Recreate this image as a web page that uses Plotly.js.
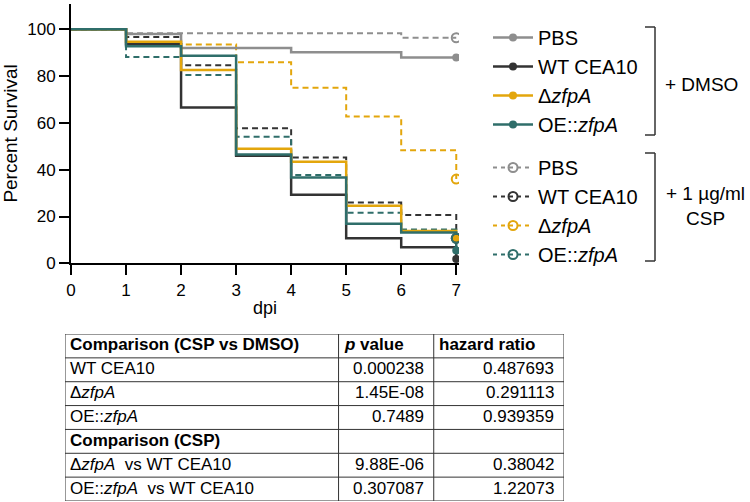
<!DOCTYPE html>
<html>
<head>
<meta charset="utf-8">
<script src="https://cdn.plot.ly/plotly-3.0.1.min.js"></script>
<style>html,body{margin:0;padding:0;background:#fff}#chart{width:750px;height:502px}</style>
</head>
<body>
<div id="chart"></div>
<script>
// ---- data ----
const days = [0, 1, 2, 3, 4, 5, 6, 7];
const pbsDMSO = [100, 98.0, 92.0, 92.0, 90.2, 90.2, 88.0, 88.0];
const wtDMSO  = [100, 93.6, 66.6, 46.0, 29.3, 10.7, 6.9, 1.8];
const dzDMSO  = [100, 94.7, 82.6, 49.0, 43.4, 24.6, 13.8, 10.7];
const oeDMSO  = [100, 92.8, 88.7, 46.5, 36.7, 16.9, 13.2, 5.5];
const pbsCSP  = [100, 98.3, 98.3, 98.3, 98.3, 98.3, 96.4, 96.4];
const wtCSP   = [100, 96.7, 84.7, 57.7, 45.2, 26.0, 20.6, 10.7];
const dzCSP   = [100, 94.5, 93.5, 85.9, 75.0, 62.7, 48.3, 36.0];
const oeCSP   = [100, 88.2, 80.5, 54.1, 37.7, 21.6, 14.5, 10.7];

const seriesNames = ['PBS', 'WT CEA10', 'Δ<i>zfpA</i>', 'OE::<i>zfpA</i>'];
const colors = ['#8e8e8e', '#333333', '#e3a60c', '#2f6e6a'];

const tableHeader = ['<b>Comparison (CSP vs DMSO)</b>', '<b><i>p</i> value</b>', '<b>hazard ratio</b>'];
const tableComparison = ['WT CEA10', 'Δ<i>zfpA</i>', 'OE::<i>zfpA</i>', '<b>Comparison (CSP)</b>', 'Δ<i>zfpA</i>\u00a0\u00a0vs WT CEA10', 'OE::<i>zfpA</i>\u00a0\u00a0vs WT CEA10'];
const tablePValue = ['0.000238', '1.45E-08', '0.7489', '', '9.88E-06', '0.307087'];
const tableHazard = ['0.487693', '0.291113', '0.939359', '', '0.38042', '1.22073'];
const tableColWidths = [273, 95, 130];

const W = 750, H = 502;
const FONT = 'Liberation Sans, Arial, sans-serif';
const px = x => x / W;
const py = y => 1 - y / H;

const dmso = [pbsDMSO, wtDMSO, dzDMSO, oeDMSO];
const csp = [pbsCSP, wtCSP, dzCSP, oeCSP];

const traces = [];
csp.forEach((s, i) => traces.push({
  x: days, y: s, type: 'scatter', mode: 'lines', line: {shape: 'hv', color: colors[i], width: 2, dash: '6px,4px'},
  showlegend: false, hoverinfo: 'skip'
}));
dmso.forEach((s, i) => traces.push({
  x: days, y: s, type: 'scatter', mode: 'lines', line: {shape: 'hv', color: colors[i], width: 2.5},
  showlegend: false, hoverinfo: 'skip'
}));
dmso.forEach((s, i) => traces.push({
  x: [days[days.length - 1]], y: [s[s.length - 1]], type: 'scatter', mode: 'lines+markers',
  name: seriesNames[i], legend: 'legend',
  line: {color: colors[i], width: 2.5}, marker: {symbol: 'circle', size: 8, color: colors[i]}
}));
csp.forEach((s, i) => traces.push({
  x: [days[days.length - 1]], y: [s[s.length - 1]], type: 'scatter', mode: 'lines+markers',
  name: seriesNames[i], legend: 'legend2',
  line: {color: colors[i], width: 2, dash: '4px,4px'},
  marker: {symbol: 'circle-open', size: 9, color: colors[i], line: {width: 2, color: colors[i]}}
}));

const axisBase = {
  showline: true, linecolor: '#000', linewidth: 2, ticks: 'outside', ticklen: 10, tickwidth: 2, tickcolor: '#000',
  showgrid: false, zeroline: false, tickfont: {family: FONT, size: 17, color: '#000'}
};

const bracket = (x, y0, y1) => [
  {type: 'line', xref: 'paper', yref: 'paper', x0: px(x), x1: px(x), y0: py(y0), y1: py(y1), line: {color: '#333', width: 1.5}},
  {type: 'line', xref: 'paper', yref: 'paper', x0: px(x - 10), x1: px(x), y0: py(y0), y1: py(y0), line: {color: '#333', width: 1.5}},
  {type: 'line', xref: 'paper', yref: 'paper', x0: px(x - 10), x1: px(x), y0: py(y1), y1: py(y1), line: {color: '#333', width: 1.5}}
];

// ---- table built on its own hidden axes (x2: column units, y2: row index) ----
const tableRows = [tableHeader].concat(tableComparison.map((c, r) => [c, tablePValue[r], tableHazard[r]]));
const colEdges = [0];
tableColWidths.forEach(w => colEdges.push(colEdges[colEdges.length - 1] + w));
const tableShapes = [];
for (let r = 0; r <= tableRows.length; r++) {
  tableShapes.push({type: 'line', xref: 'x2', yref: 'y2', x0: 0, x1: colEdges[colEdges.length - 1], y0: r, y1: r, line: {color: '#333', width: 1}});
}
colEdges.forEach(c => tableShapes.push({type: 'line', xref: 'x2', yref: 'y2', x0: c, x1: c, y0: 0, y1: tableRows.length, line: {color: '#333', width: 1}}));
const tableAnn = [];
tableRows.forEach((row, r) => row.forEach((txt, c) => {
  if (!txt) return;
  const right = r > 0 && c > 0;
  tableAnn.push({
    xref: 'x2', yref: 'y2', x: right ? colEdges[c + 1] : colEdges[c], y: r + 0.5,
    xanchor: right ? 'right' : 'left', yanchor: 'middle', xshift: right ? -8 : 3, yshift: 1,
    showarrow: false, text: txt, font: {family: FONT, size: 17, color: '#000'}
  });
}));

const legendBase = {
  xanchor: 'left', yanchor: 'top', bgcolor: 'rgba(0,0,0,0)', borderwidth: 0,
  font: {family: FONT, size: 20, color: '#000'}, itemwidth: 40
};

const layout = {
  width: W, height: H,
  margin: {l: 0, r: 0, t: 0, b: 0},
  paper_bgcolor: '#fff', plot_bgcolor: '#fff',
  font: {family: FONT, color: '#000'},
  xaxis: Object.assign({}, axisBase, {
    domain: [px(71), px(459)], anchor: 'y', range: [0, 7.05], tickvals: days,
    title: {text: 'dpi', font: {family: FONT, size: 18, color: '#000'}, standoff: 3}
  }),
  yaxis: Object.assign({}, axisBase, {
    domain: [py(263.3), py(3.6)], anchor: 'x', range: [0, 111], tickvals: [0, 20, 40, 60, 80, 100],
    title: {text: 'Percent Survival', font: {family: FONT, size: 19, color: '#000'}, standoff: 12}
  }),
  xaxis2: {domain: [px(65), px(564)], anchor: 'y2', range: [0, colEdges[colEdges.length - 1]], visible: false, fixedrange: true},
  yaxis2: {domain: [py(501), py(334)], anchor: 'x2', range: [tableRows.length, 0], visible: false, fixedrange: true},
  showlegend: true,
  legend: Object.assign({}, legendBase, {x: px(488), y: py(18)}),
  legend2: Object.assign({}, legendBase, {x: px(488), y: py(148)}),
  shapes: [].concat(bracket(655, 27, 135), bracket(655, 153, 261), tableShapes),
  annotations: [
    {xref: 'paper', yref: 'paper', x: px(663), y: py(85), xanchor: 'left', yanchor: 'middle', showarrow: false,
     text: '+ DMSO', font: {family: FONT, size: 19, color: '#000'}},
    {xref: 'paper', yref: 'paper', x: px(705), y: py(206), xanchor: 'center', yanchor: 'middle', showarrow: false,
     text: '+ 1 µg/ml<br>CSP', align: 'center', font: {family: FONT, size: 19, color: '#000'}}
  ].concat(tableAnn)
};

Plotly.newPlot('chart', traces, layout, {staticPlot: true, displayModeBar: false});
</script>
</body>
</html>
